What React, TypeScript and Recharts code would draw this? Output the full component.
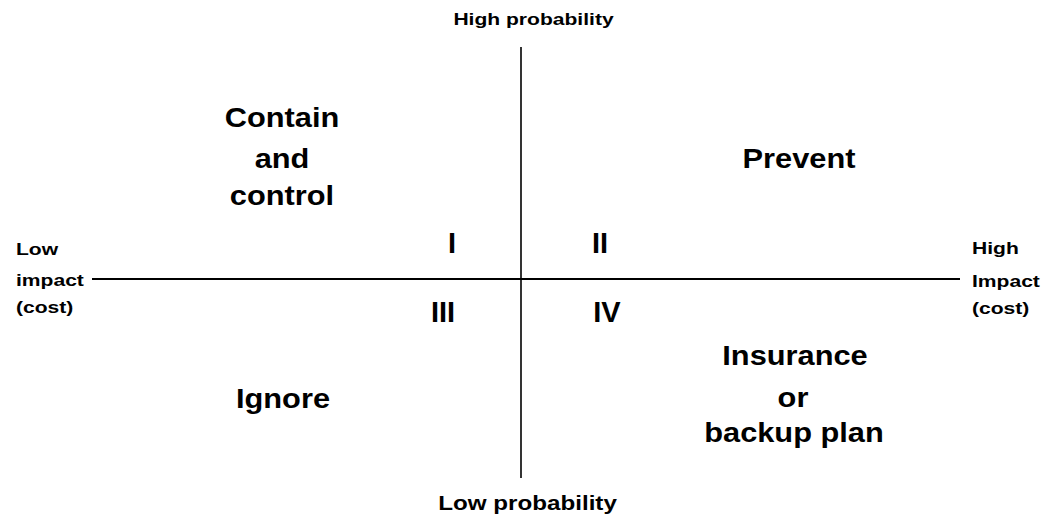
import { ScatterChart, Scatter, XAxis, YAxis, ReferenceLine } from 'recharts';

// quadrant diagram: impact (x) vs probability (y), crossing at 0,0
interface Label {
  text: string;
  impact: number;
  probability: number;
  anchor?: 'start' | 'middle' | 'end';
}

const impactDomain = [-5.21, 5.28];
const probabilityDomain = [-2.39, 2.79];
const impactAxis = [-4.29, 4.39];
const probabilityAxis = [-1.99, 2.32];

const actionLabels: Label[] = [
  { text: 'Contain', impact: -2.39, probability: 1.52 },
  { text: 'and', impact: -2.39, probability: 1.11 },
  { text: 'control', impact: -2.39, probability: 0.74 },
  { text: 'Prevent', impact: 2.78, probability: 1.11 },
  { text: 'Ignore', impact: -2.38, probability: -1.29 },
  { text: 'Insurance', impact: 2.74, probability: -0.86 },
  { text: 'or', impact: 2.72, probability: -1.28 },
  { text: 'backup plan', impact: 2.73, probability: -1.63 },
];

const quadrantNumbers: Label[] = [
  { text: 'I', impact: -0.69, probability: 0.26 },
  { text: 'II', impact: 0.79, probability: 0.26 },
  { text: 'III', impact: -0.78, probability: -0.43 },
  { text: 'IV', impact: 0.86, probability: -0.43 },
];

const sideLabels: Label[] = [
  { text: 'High probability', impact: 0.125, probability: 2.54 },
  { text: 'Low', impact: -5.05, probability: 0.24, anchor: 'start' },
  { text: 'impact', impact: -5.05, probability: -0.07, anchor: 'start' },
  { text: '(cost)', impact: -5.05, probability: -0.34, anchor: 'start' },
  { text: 'High', impact: 4.51, probability: 0.25, anchor: 'start' },
  { text: 'Impact', impact: 4.51, probability: -0.08, anchor: 'start' },
  { text: '(cost)', impact: 4.51, probability: -0.35, anchor: 'start' },
];

const bottomLabel: Label[] = [{ text: 'Low probability', impact: 0.065, probability: -2.31 }];

const font = '"Liberation Sans", Arial, Helvetica, sans-serif';

function textShape(size: number, stretch: number) {
  return (props: any) => {
    const { cx, cy, payload } = props;
    if (cx == null || cy == null) return <g />;
    return (
      <g transform={`translate(${cx},${cy}) scale(${stretch},1)`}>
        <text x={0} y={0} textAnchor={payload.anchor ?? 'middle'} fontFamily={font} fontWeight="bold" fontSize={size} fill="#000">
          {payload.text}
        </text>
      </g>
    );
  };
}

export default function App() {
  return (
    <div style={{ position: 'absolute', left: 0, top: 0, background: '#fff' }}>
      <ScatterChart width={1049} height={518} margin={{ top: 0, right: 0, bottom: 0, left: 0 }}>
        <XAxis type="number" dataKey="impact" domain={impactDomain} hide />
        <YAxis type="number" dataKey="probability" domain={probabilityDomain} hide width={0} />
        <ReferenceLine
          segment={[{ x: impactAxis[0], y: 0 }, { x: impactAxis[1], y: 0 }]}
          stroke="#000"
          strokeWidth={2}
        />
        <ReferenceLine
          segment={[{ x: 0, y: probabilityAxis[0] }, { x: 0, y: probabilityAxis[1] }]}
          stroke="#000"
          strokeWidth={1.6}
        />
        <Scatter data={actionLabels} shape={textShape(27, 1.14)} isAnimationActive={false} />
        <Scatter data={quadrantNumbers} shape={textShape(29, 1)} isAnimationActive={false} />
        <Scatter data={sideLabels} shape={textShape(17, 1.24)} isAnimationActive={false} />
        <Scatter data={bottomLabel} shape={textShape(20, 1.21)} isAnimationActive={false} />
      </ScatterChart>
    </div>
  );
}
